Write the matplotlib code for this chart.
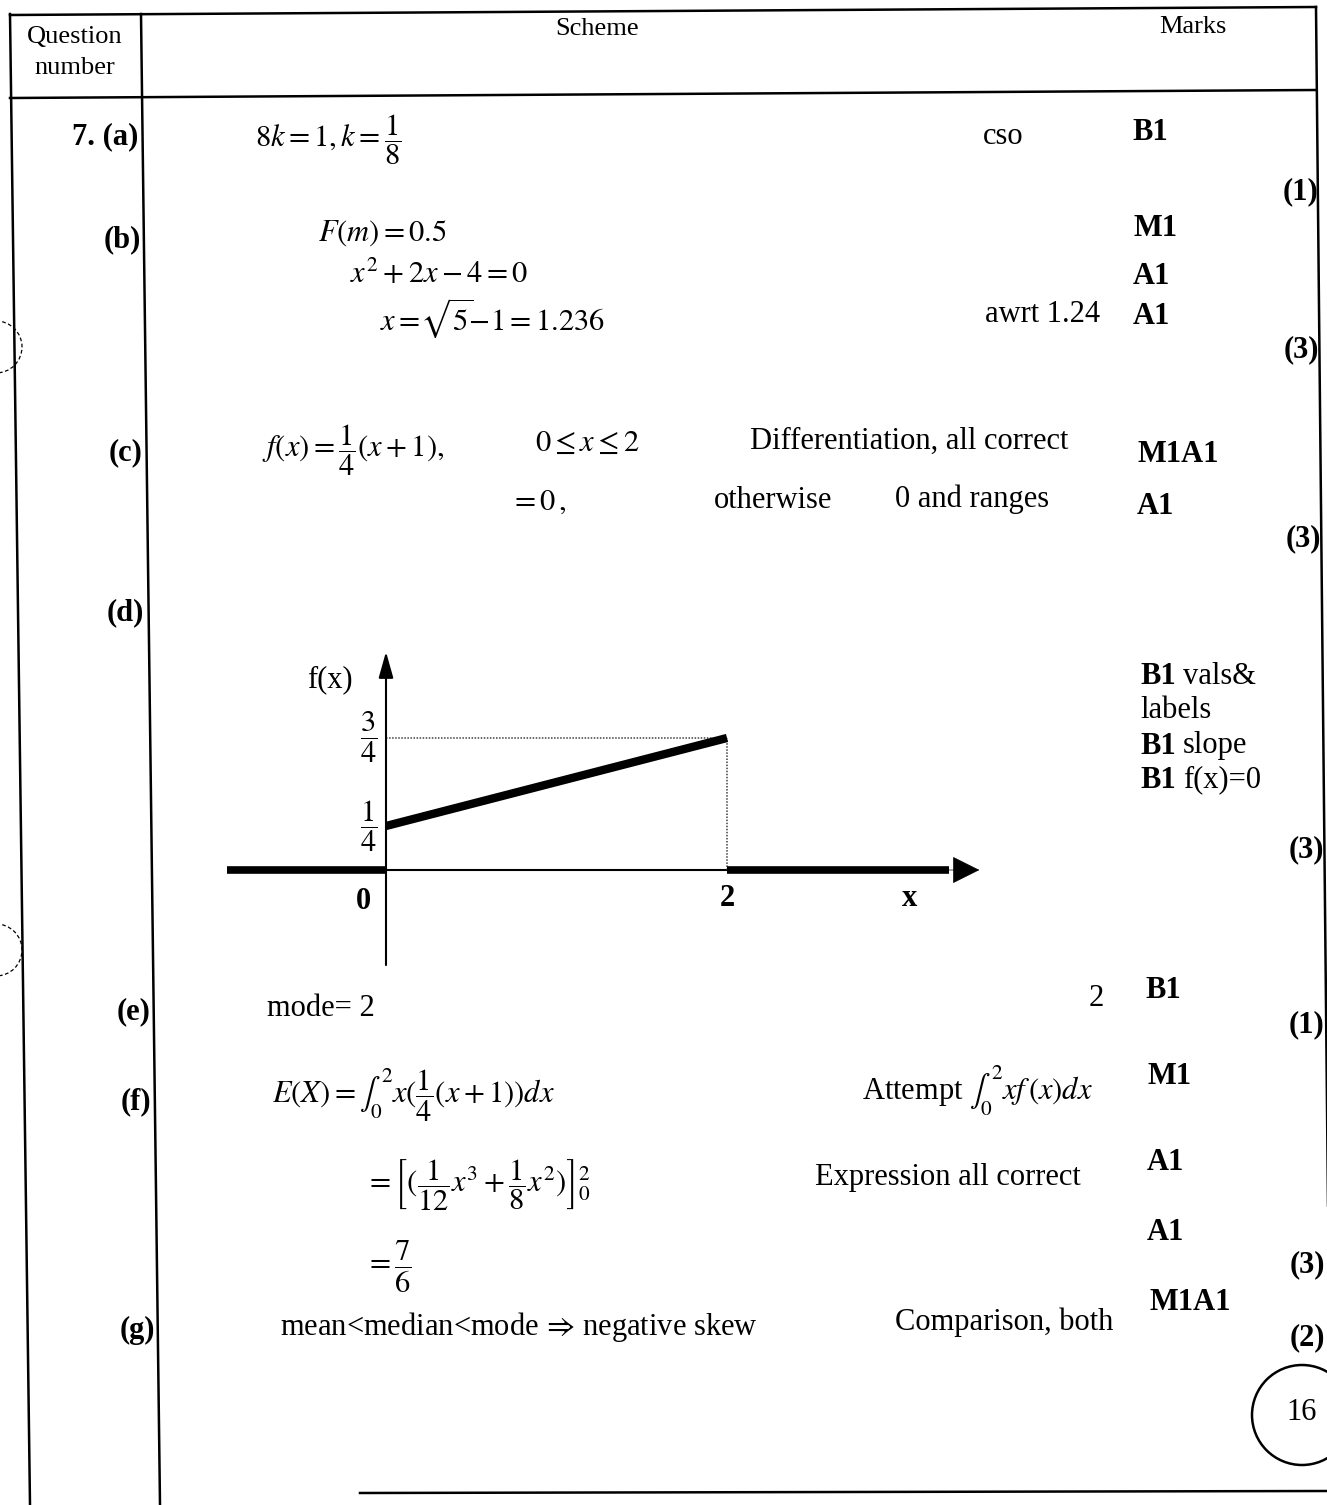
import matplotlib
matplotlib.use("Agg")
import matplotlib.pyplot as plt
from matplotlib.patches import Circle, Arc

plt.rcParams['font.family'] = ['Liberation Serif', 'DejaVu Serif']
plt.rcParams['mathtext.fontset'] = 'stix'

W, H = 1327, 1505

# graph data for part (d): f(x) = (x+1)/4 on [0, 2], zero elsewhere
pdf_x = [0, 2]
pdf_y = [0.25, 0.75]
zero_left_x = [-0.93, 0]
zero_right_x = [2, 3.3]
arrow_tip_x = 3.48
ytick_vals = [0.25, 0.75]
ytick_labels = [r'$\dfrac{1}{4}$', r'$\dfrac{3}{4}$']
xtick_vals = [0, 2]
xtick_labels = ['0', '2']

fig = plt.figure(figsize=(W / 100, H / 100), dpi=100)
ax = fig.add_axes([0, 0, 1, 1])
ax.set_xlim(0, W)
ax.set_ylim(H, 0)
ax.axis('off')


def put(x, y, s, size=22, weight='normal', ha='left', va='center'):
    ax.text(x, y, s, fontsize=size, fontweight=weight, ha=ha, va=va, color='black')


# table frame (scan is slightly tilted)
lw = 1.8
ax.plot([10, 30], [14, 1505], color='k', lw=lw)          # left border
ax.plot([141, 160], [14, 1505], color='k', lw=lw)        # question column
ax.plot([1316, 1331], [7, 1505], color='k', lw=lw)       # right border
ax.plot([10, 1316], [15, 7], color='k', lw=lw)           # top
ax.plot([10, 1316], [98, 90], color='k', lw=lw)          # header bottom
ax.plot([360, 1327], [1493, 1491], color='k', lw=lw)     # bottom

# punch holes
for cy in (347, 950):
    ax.add_patch(Arc((-4, cy), 52, 52, theta1=-90, theta2=90, color='k',
                     lw=0.9, ls=(0, (3, 2))))

# header
put(75, 37, 'Question', size=19, ha='center')
put(75, 68, 'number', size=19, ha='center')
put(597, 29, 'Scheme', size=19, ha='center')
put(1193, 27, 'Marks', size=19, ha='center')

# question labels
put(138, 137, '7. (a)', weight='bold', ha='right')
put(141, 240, '(b)', weight='bold', ha='right')
put(142, 453, '(c)', weight='bold', ha='right')
put(144, 613, '(d)', weight='bold', ha='right')
put(150, 1012, '(e)', weight='bold', ha='right')
put(151, 1102, '(f)', weight='bold', ha='right')
put(155, 1330, '(g)', weight='bold', ha='right')

# (a)
put(255, 140, r'$8k=1, k=\dfrac{1}{8}$')
put(1003, 137, 'cso', ha='center')
put(1132, 133, 'B1', weight='bold')
put(1300, 192, '(1)', weight='bold', ha='center')

# (b)
put(318, 233, r'$F(m)=0.5$')
put(350, 275, r'$x^2+2x-4=0$')
put(380, 318, r'$x=\!\sqrt{5}\!\!-\!1=1.236$')
put(985, 314, 'awrt 1.24')
put(1133, 228, 'M1', weight='bold')
put(1133, 277, 'A1', weight='bold')
put(1133, 317, 'A1', weight='bold')
put(1301, 350, '(3)', weight='bold', ha='center')

# (c)
put(262, 450, r'$f(x)=\dfrac{1}{4}(x+1),$')
put(535, 443, r'$0\leq x\leq 2$')
put(750, 441, 'Differentiation, all correct')
put(1137, 454, 'M1A1', weight='bold')
put(510, 502, r'$=0\,,$')
put(714, 501, 'otherwise')
put(895, 499, '0 and ranges')
put(1137, 507, 'A1', weight='bold')
put(1303, 539, '(3)', weight='bold', ha='center')

# (d) marks
for yy, rest in ((677, 'vals&'), (746, 'slope'), (780, 'f(x)=0')):
    put(1140, yy, 'B1', weight='bold')
    put(1183, yy, rest)
put(1140, 711, 'labels')
put(1306, 850, '(3)', weight='bold', ha='center')

# (d) graph: axes placed so that x=0 -> px 386, y=0 -> px 870
x0px, y0px, sx, sy = 386, 870, 170.5, 176
xlim = (-1.0, 3.6)
ylim = (-0.6, 1.3)
left = x0px + xlim[0] * sx
bottom = y0px - ylim[0] * sy
gw = (xlim[1] - xlim[0]) * sx
gh = (ylim[1] - ylim[0]) * sy
g = fig.add_axes([left / W, 1 - bottom / H, gw / W, gh / H])
g.set_xlim(*xlim)
g.set_ylim(*ylim)
g.axis('off')
g.patch.set_alpha(0)

# axes lines
g.annotate('', xy=(0, 1.24), xytext=(0, -0.54),
           arrowprops=dict(arrowstyle='-|>,head_length=1.6,head_width=0.45',
                           mutation_scale=10, lw=1.5, color='k',
                           shrinkA=0, shrinkB=0))
g.plot([0, 2], [0, 0], color='k', lw=1.5)
# guides
g.plot([0, pdf_x[1]], [pdf_y[1], pdf_y[1]], color='0.25', lw=1.1, ls=(0, (1, 1)))
g.plot([pdf_x[1], pdf_x[1]], [0, pdf_y[1]], color='0.25', lw=1.1, ls=(0, (1, 1)))
# f(x)
g.plot(pdf_x, pdf_y, color='k', lw=6, solid_capstyle='butt')
g.plot(zero_left_x, [0, 0], color='k', lw=5.5, solid_capstyle='butt')
g.plot(zero_right_x, [0, 0], color='k', lw=5.5, solid_capstyle='butt')
g.annotate('', xy=(arrow_tip_x, 0), xytext=(zero_right_x[1] - 0.05, 0),
           arrowprops=dict(arrowstyle='-|>,head_length=1.8,head_width=0.9',
                           mutation_scale=10, lw=0.5, color='k',
                           shrinkA=0, shrinkB=0))
# labels
for v, lab in zip(ytick_vals, ytick_labels):
    g.text(-0.05, v, lab, fontsize=22, ha='right', va='center')
g.text(-0.135, -0.18, xtick_labels[0], fontsize=22, fontweight='bold', ha='center', va='center')
g.text(xtick_vals[1], -0.16, xtick_labels[1], fontsize=22, fontweight='bold', ha='center', va='center')
g.text(3.07, -0.16, 'x', fontsize=22, fontweight='bold', ha='center', va='center')
g.text(-0.33, 1.08, 'f(x)', fontsize=22, ha='center', va='center')

# (e)
put(267, 1008, 'mode= 2')
put(1096, 998, '2', ha='center')
put(1145, 990, 'B1', weight='bold')
put(1307, 1025, '(1)', weight='bold', ha='center')

# (f)
put(272, 1095, r'$E(X)=\int_0^2 x(\dfrac{1}{4}(x+1))dx$')
put(862, 1090, r'Attempt $\int_0^2 xf\,(x)dx$')
put(1147, 1077, 'M1', weight='bold')
put(365, 1185, r'$={\left[(\dfrac{1}{12}x^3+\dfrac{1}{8}x^2)\right]}_0^2$')
put(815, 1178, 'Expression all correct')
put(1147, 1163, 'A1', weight='bold')
put(1147, 1232, 'A1', weight='bold')
put(365, 1267, r'$=\dfrac{7}{6}$')
put(1307, 1265, '(3)', weight='bold', ha='center')

# (g)
put(280, 1327, r'mean<median<mode$\,\Rightarrow\,$negative skew')
put(895, 1322, 'Comparison, both')
put(1150, 1302, 'M1A1', weight='bold')
put(1307, 1338, '(2)', weight='bold', ha='center')

# total
ax.add_patch(Circle((1302, 1415), 50, fill=False, color='k', lw=1.8))
put(1302, 1413, '16', ha='center')

fig.savefig('out.png', dpi=100)
